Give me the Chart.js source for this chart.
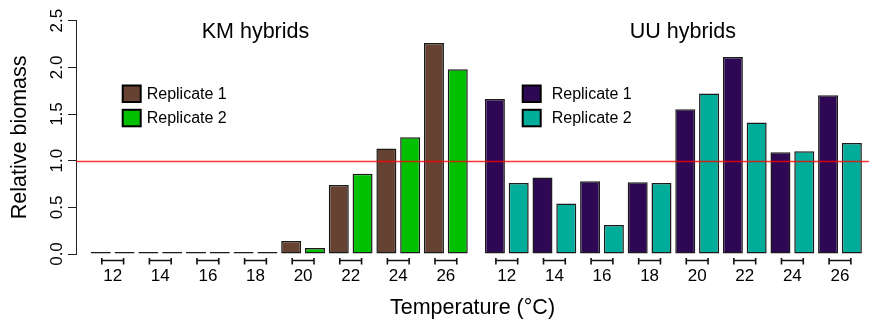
<!DOCTYPE html>
<html><head><meta charset="utf-8">
<script src="https://cdn.jsdelivr.net/npm/chart.js@4/dist/chart.umd.min.js"></script>
<style>html,body{margin:0;padding:0;background:#fff}canvas{display:block}</style>
</head><body>
<canvas id="c" width="869" height="322"></canvas>
<script>
// ---- data ----
const temperatures = [12, 14, 16, 18, 20, 22, 24, 26];
const kmReplicate1 = [0, 0, 0, 0.02, 0.14, 0.74, 1.13, 2.26];
const kmReplicate2 = [0, 0, 0, 0.02, 0.065, 0.86, 1.25, 1.98];
const uuReplicate1 = [1.66, 0.82, 0.78, 0.77, 1.55, 2.11, 1.09, 1.70];
const uuReplicate2 = [0.76, 0.54, 0.31, 0.76, 1.72, 1.41, 1.10, 1.19];
const yTickValues = [0, 0.5, 1, 1.5, 2, 2.5];
const groupNames = ['KM hybrids', 'UU hybrids'];
const seriesNames = ['Replicate 1', 'Replicate 2'];
const referenceLevel = 1.0;

// ---- layout (slot units on the x axis) ----
const UU_OFFSET = 16.56;
const X_MIN = -1.042, X_MAX = 32.28;
const FONT = "'Liberation Sans', Arial, Helvetica, sans-serif";
const COLORS = {
  km: ['#664233', '#00C000'],
  uu: ['#2E0854', '#00AD9A']
};

function pts(values, offset, r) {
  return values.map((v, i) => ({ x: offset + 2 * i + r, y: v }));
}
const groupCenters = temperatures.map((t, i) => 2 * i + 0.5)
  .concat(temperatures.map((t, i) => UU_OFFSET + 2 * i + 0.5));

const barStyle = {
  borderColor: '#1a1a1a', borderWidth: 1.5, borderSkipped: false,
  minBarLength: 2, grouped: false, categoryPercentage: 1, barPercentage: 0.84
};

const datasets = [
  Object.assign({ label: groupNames[0] + ' ' + seriesNames[0], data: pts(kmReplicate1, 0, 0), backgroundColor: COLORS.km[0] }, barStyle),
  Object.assign({ label: groupNames[0] + ' ' + seriesNames[1], data: pts(kmReplicate2, 0, 1), backgroundColor: COLORS.km[1] }, barStyle),
  Object.assign({ label: groupNames[1] + ' ' + seriesNames[0], data: pts(uuReplicate1, UU_OFFSET, 0), backgroundColor: COLORS.uu[0] }, barStyle),
  Object.assign({ label: groupNames[1] + ' ' + seriesNames[1], data: pts(uuReplicate2, UU_OFFSET, 1), backgroundColor: COLORS.uu[1] }, barStyle)
];

const decor = {
  id: 'decor',
  afterDatasetsDraw(chart) {
    const { ctx, chartArea, scales: { x, y } } = chart;
    ctx.save();
    // reference line
    const ry = Math.round(y.getPixelForValue(referenceLevel)) + 0.5;
    ctx.strokeStyle = 'rgba(255,0,0,0.8)';
    ctx.lineWidth = 1.5;
    ctx.beginPath(); ctx.moveTo(chartArea.left, ry); ctx.lineTo(chartArea.right, ry); ctx.stroke();
    // group brackets under each temperature
    ctx.strokeStyle = '#111';
    ctx.lineWidth = 1.6;
    const by = chartArea.bottom + 6.5;
    groupCenters.forEach(c => {
      const a = x.getPixelForValue(c - 0.5) + 1;
      const b = x.getPixelForValue(c + 0.5) - 1;
      ctx.beginPath();
      ctx.moveTo(a, by); ctx.lineTo(b, by);
      ctx.moveTo(a, by - 2.5); ctx.lineTo(a, by + 4);
      ctx.moveTo(b, by - 2.5); ctx.lineTo(b, by + 4);
      ctx.stroke();
    });
    ctx.restore();
  },
  afterDraw(chart) {
    const { ctx, chartArea, scales: { x, y } } = chart;
    ctx.save();
    ctx.fillStyle = '#000';
    // y tick labels, rotated like the original
    ctx.font = '17px ' + FONT;
    ctx.textAlign = 'center';
    ctx.textBaseline = 'alphabetic';
    yTickValues.forEach(v => {
      ctx.save();
      ctx.translate(61.5, y.getPixelForValue(v));
      ctx.rotate(-Math.PI / 2);
      ctx.fillText(v.toFixed(1), 0, 0);
      ctx.restore();
    });
    // panel titles
    ctx.font = '21.5px ' + FONT;
    ctx.textAlign = 'center';
    ctx.fillText(groupNames[0], x.getPixelForValue(6.5), 38);
    ctx.fillText(groupNames[1], x.getPixelForValue(24.46), 38);
    // legends
    const legends = [
      { bx: 122.7, tx: 146.7, cols: COLORS.km },
      { bx: 522.7, tx: 551.7, cols: COLORS.uu }
    ];
    ctx.font = '16px ' + FONT;
    ctx.textAlign = 'left';
    ctx.textBaseline = 'middle';
    legends.forEach(L => {
      seriesNames.forEach((name, k) => {
        const top = 85.5 + k * 24.3;
        ctx.fillStyle = L.cols[k];
        ctx.fillRect(L.bx, top, 18, 16.5);
        ctx.strokeStyle = '#000';
        ctx.lineWidth = 2;
        ctx.strokeRect(L.bx, top, 18, 16.5);
        ctx.fillStyle = '#000';
        ctx.fillText(name, L.tx, top + 8.8);
      });
    });
    ctx.restore();
  }
};

new Chart(document.getElementById('c'), {
  type: 'bar',
  data: { datasets },
  options: {
    responsive: false,
    animation: false,
    devicePixelRatio: 1,
    layout: { padding: { top: 20.7, right: 0, left: 0, bottom: 0 } },
    plugins: { legend: { display: false }, tooltip: { enabled: false } },
    scales: {
      x: {
        type: 'linear',
        min: X_MIN, max: X_MAX,
        offset: false,
        grid: { display: false, drawTicks: false },
        border: { display: false },
        afterBuildTicks(scale) { scale.ticks = groupCenters.map(v => ({ value: v })); },
        afterFit(scale) { scale.height = 68; },
        ticks: {
          autoSkip: false, maxRotation: 0, minRotation: 0, padding: 12,
          color: '#000', font: { family: FONT, size: 17 },
          callback: (v, i) => String(temperatures[i % temperatures.length])
        },
        title: {
          display: true, text: 'Temperature (°C)', color: '#000',
          font: { family: FONT, size: 21.5 }, padding: { top: 0, bottom: 1 }
        }
      },
      y: {
        min: 0, max: 2.5,
        afterBuildTicks(scale) { scale.ticks = yTickValues.map(v => ({ value: v })); },
        afterFit(scale) { scale.width = 76; },
        grid: { drawOnChartArea: false, drawTicks: true, tickLength: 8, color: '#222', lineWidth: 1 },
        border: { display: true, color: '#222', width: 1 },
        ticks: { display: false },
        title: {
          display: true, text: 'Relative biomass', color: '#000',
          font: { family: FONT, size: 21.5 }, padding: { top: 7, bottom: 0 }
        }
      }
    }
  },
  plugins: [decor]
});
</script>
</body></html>
